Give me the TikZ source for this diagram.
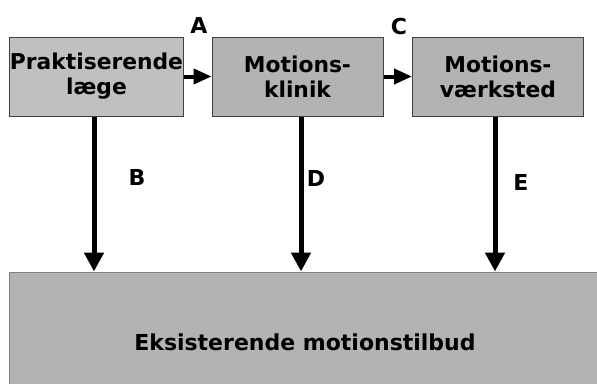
\documentclass[tikz,border=0pt]{standalone}
\usepackage{fontspec}
\setmainfont{DejaVu Sans}
\usetikzlibrary{arrows.meta}
\definecolor{boxa}{HTML}{C0C0C0}
\definecolor{boxb}{HTML}{B3B3B3}
\definecolor{edge}{HTML}{404040}
\tikzset{
  box/.style={draw=edge, line width=1pt, minimum width=171pt, minimum height=79pt, inner sep=0pt, align=center, font=\fontsize{21.8}{25}\selectfont\bfseries},
  lab/.style={font=\fontsize{22}{25}\selectfont\bfseries, inner sep=0pt},
  varrow/.style={line width=5pt, -{Triangle[width=19pt,length=19pt]}},
  harrow/.style={line width=4pt, -{Triangle[width=15pt,length=18pt]}}
}
\begin{document}
\begin{tikzpicture}[x=1pt,y=-1pt]
\useasboundingbox (0,0) rectangle (597,383);
\begin{scope}
\clip (0,0) rectangle (597,383);
\node[box, fill=boxa] (b1) at (96.5,76.5) {Praktiserende\\læge};
\node[box, fill=boxb] (b2) at (297.5,76.5) {Motions-\\klinik};
\node[box, fill=boxb] (b3) at (498,76.5) {Motions-\\værksted};
\node[box, fill=boxb, draw=gray, minimum width=592pt, minimum height=140pt, font=\fontsize{22}{25}\selectfont\bfseries] (bot) at (305,342) {Eksisterende motionstilbud};
\draw[harrow] (b1.east) -- (b2.west);
\draw[harrow] (b2.east) -- (b3.west);
\draw[varrow] ([xshift=-2.5pt]b1.south) -- ([xshift=-2.5pt]b1.south |- bot.north);
\draw[varrow] ([xshift=3.5pt]b2.south) -- ([xshift=3.5pt]b2.south |- bot.north);
\draw[varrow] ([xshift=-3pt]b3.south) -- ([xshift=-3pt]b3.south |- bot.north);
\end{scope}
\node[lab] (la) at (199,25) {A};
\node[lab] (lc) at (399,26) {C};
\node[lab] (lb) at (137,177) {B};
\node[lab] (ld) at (316,178) {D};
\node[lab] (le) at (521,182) {E};
\end{tikzpicture}
\end{document}
